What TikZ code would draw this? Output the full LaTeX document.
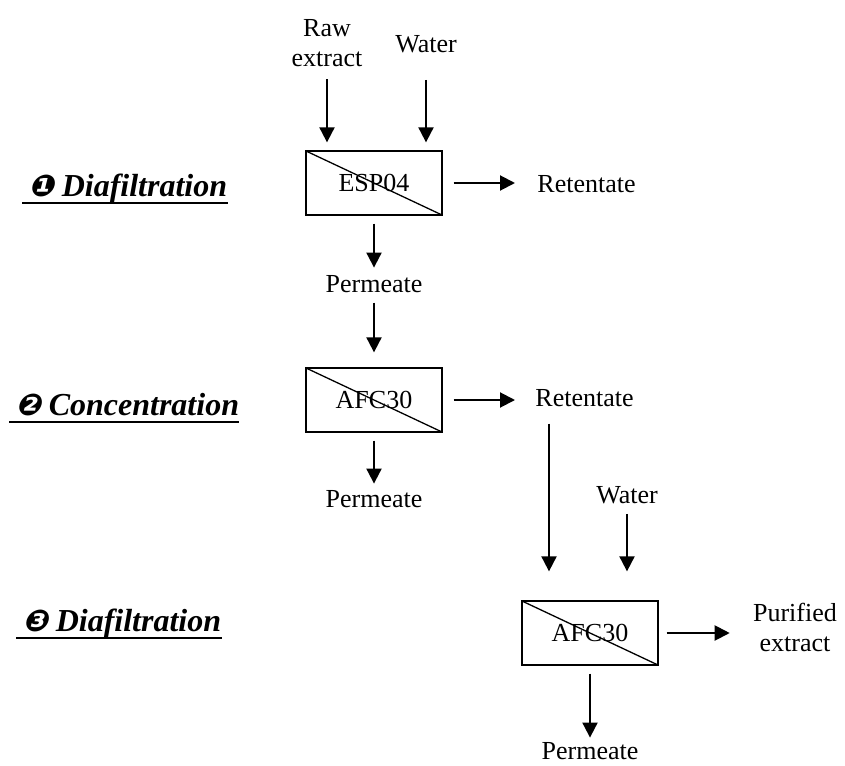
\documentclass[tikz,border=0pt]{standalone}
\usepackage{fontspec}
\setmainfont{Liberation Serif}
\newfontfamily\dingfont[FakeSlant=0.25]{DejaVu Sans}
\usetikzlibrary{arrows.meta}

\tikzset{
  membrane/.style={draw, line width=0.65pt, minimum width=68pt, minimum height=32pt,
    inner sep=0pt, font=\fontsize{13}{15}\selectfont,
    path picture={\draw[line width=0.65pt] (path picture bounding box.north west)
      -- (path picture bounding box.south east);}},
  stream/.style={inner sep=0pt, font=\fontsize{13}{15}\selectfont, align=center},
  flow/.style={line width=1pt, shorten <=4pt, shorten >=4pt,
    -{Triangle[length=7.5pt,width=7.5pt]}},
  steplabel/.style={inner sep=0pt, anchor=base west,
    font=\fontsize{16}{18}\selectfont\bfseries\itshape},
  uline/.style={line width=1pt},
}
\newcommand{\stepnum}[1]{{\dingfont\fontsize{15}{15}\selectfont #1}}

\begin{document}
\begin{tikzpicture}[x=0.5pt,y=-0.5pt]
  \useasboundingbox (0,0) rectangle (845,765);

  % membrane units
  \node[membrane] (esp)  at (374,183) {ESP04};
  \node[membrane] (afcA) at (374,400) {AFC30};
  \node[membrane] (afcB) at (590,633) {AFC30};

  % streams
  \node[stream] (raw) at (327,43) {Raw\\extract};
  \node[stream, anchor=base] (water) at (426,53) {Water};
  \node[stream, anchor=base west] (ret1) at (537,192) {Retentate};
  \node[stream, anchor=base] (perm1) at (374,292) {Permeate};
  \node[stream, anchor=base west] (ret2) at (535,406) {Retentate};
  \node[stream, anchor=base] (perm2) at (374,507) {Permeate};
  \node[stream, anchor=base] (water2) at (627,503) {Water};
  \node[stream] (pure) at (795,627) {Purified\\extract};
  \node[stream, anchor=base] (perm3) at (590,759) {Permeate};

  % step labels
  \node[steplabel] (lab1) at (28,196) {\stepnum{❶}~Diafiltration};
  \node[steplabel] (lab2) at (15,415) {\stepnum{❷}~Concentration};
  \node[steplabel] (lab3) at (22,631) {\stepnum{❸}~Diafiltration};
  \foreach \l in {lab1,lab2,lab3}
    \draw[uline] ([xshift=-3pt,yshift=-3.5pt]\l.base west) -- ([yshift=-3.5pt]\l.base east);

  % step 1
  \draw[flow, shorten <=6pt] (raw.south) -- (raw.south |- esp.north);
  \draw[flow, shorten <=13pt] (water.south) -- (water.south |- esp.north);
  \draw[flow, shorten <=5.5pt, shorten >=11pt] (esp.east) -- (esp.east -| ret1.west);
  \draw[flow, shorten >=3.5pt] (esp.south) -- (perm1.north);

  % step 2
  \draw[flow, shorten <=5pt, shorten >=7.5pt] (perm1.south) -- (afcA.north);
  \draw[flow, shorten <=5.5pt, shorten >=10pt] (afcA.east) -- (afcA.east -| ret2.west);
  \draw[flow, shorten >=3pt] (afcA.south) -- (perm2.north);

  % step 3
  \path ([xshift=7pt]ret2.south west) coordinate (drop);
  \draw[flow, shorten <=8.5pt, shorten >=14.5pt] (drop) -- (drop |- afcB.north);
  \draw[flow, shorten <=5pt, shorten >=14.5pt] (water2.south) -- (water2.south |- afcB.north);
  \draw[flow, shorten >=11.5pt] (afcB.east) -- (afcB.east -| pure.west);
  \draw[flow, shorten >=2pt] (afcB.south) -- (perm3.north);
\end{tikzpicture}
\end{document}
